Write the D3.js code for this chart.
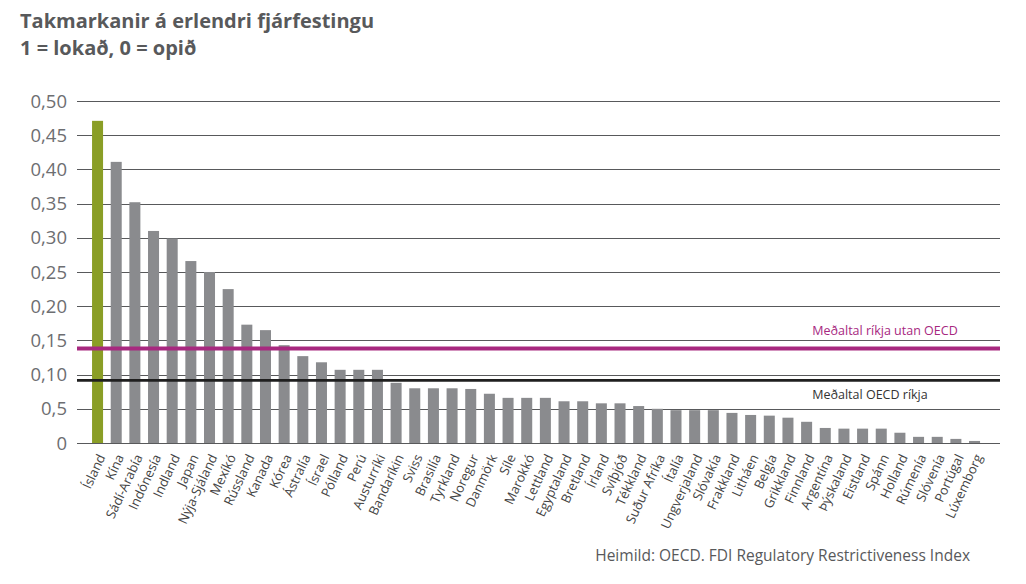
<!DOCTYPE html>
<html>
<head>
<meta charset="utf-8">
<script src="https://cdn.jsdelivr.net/npm/d3@7"></script>
<style>
html,body{margin:0;padding:0;background:#fff;}
svg{display:block;font-family:"Open Sans","Noto Sans",sans-serif;}
</style>
</head>
<body>
<svg id="chart" width="1026" height="584"></svg>
<script>
const countries = ["Ísland","Kína","Sádí-Arabía","Indónesía","Indland","Japan","Nýja-Sjáland","Mexíkó","Rússland","Kanada","Kórea","Ástralía","Ísrael","Pólland","Perú","Austurríki","Bandaríkin","Sviss","Brasilía","Tyrkland","Noregur","Danmörk","Síle","Marokkó","Lettland","Egyptaland","Bretland","Írland","Svíþjóð","Tékkland","Suður Afríka","Ítalía","Ungverjaland","Slóvakía","Frakkland","Litháen","Belgía","Grikkland","Finnland","Argentína","Þýskaland","Eistland","Spánn","Holland","Rúmenía","Slóvenía","Portúgal","Lúxemborg"];
const values = [0.471,0.411,0.352,0.310,0.299,0.266,0.250,0.225,0.173,0.165,0.143,0.127,0.118,0.107,0.107,0.107,0.088,0.080,0.080,0.080,0.079,0.072,0.066,0.066,0.066,0.061,0.061,0.058,0.058,0.054,0.050,0.048,0.048,0.048,0.044,0.041,0.040,0.037,0.031,0.022,0.021,0.021,0.021,0.015,0.009,0.009,0.006,0.003];
const highlight = "Ísland";
const yTicks = [0,0.05,0.10,0.15,0.20,0.25,0.30,0.35,0.40,0.45,0.50];
const yTickLabels = ["0","0,5","0,10","0,15","0,20","0,25","0,30","0,35","0,40","0,45","0,50"];
const avgNonOECD = 0.138;
const avgOECD = 0.0915;
const avgLabels = ["Meðaltal ríkja utan OECD","Meðaltal OECD ríkja"];
const titleLines = ["Takmarkanir á erlendri fjárfestingu","1 = lokað, 0 = opið"];
const source = "Heimild: OECD. FDI Regulatory Restrictiveness Index";

const svg = d3.select("#chart");
const gridX0 = 77, gridX1 = 1000;
const y = d3.scaleLinear().domain([0,0.5]).range([443,101]);
const x = d3.scaleBand().domain(countries).range([84.4,987.7]).paddingInner(0.41).paddingOuter(0.41);

// title
svg.selectAll("text.title").data(titleLines).join("text")
  .attr("class","title")
  .attr("x",20).attr("y",(d,i)=>28+i*27)
  .attr("font-size",20).attr("font-weight","bold").attr("fill","#58595b")
  .text(d=>d);

// gridlines
svg.append("g").selectAll("line").data(yTicks).join("line")
  .attr("x1",gridX0).attr("x2",gridX1)
  .attr("y1",d=>Math.round(y(d))+0.5).attr("y2",d=>Math.round(y(d))+0.5)
  .attr("stroke","#58595b").attr("stroke-width",1.1);

// y labels
svg.append("g").selectAll("text").data(yTicks).join("text")
  .attr("x",67).attr("y",d=>y(d)+6.5)
  .attr("text-anchor","end").attr("font-size",18.5).attr("fill","#6d6e71")
  .text((d,i)=>yTickLabels[i]);

// bars
svg.append("g").selectAll("rect").data(countries).join("rect")
  .attr("x",d=>x(d)).attr("width",x.bandwidth())
  .attr("y",(d,i)=>y(values[i])).attr("height",(d,i)=>y(0)-y(values[i]))
  .attr("fill",d=>d===highlight?"#8a9e26":"#8a8b8e");

// average lines
svg.append("line").attr("x1",gridX0).attr("x2",gridX1)
  .attr("y1",y(avgNonOECD)).attr("y2",y(avgNonOECD))
  .attr("stroke","#a7287f").attr("stroke-width",4);
svg.append("line").attr("x1",gridX0).attr("x2",gridX1)
  .attr("y1",y(avgOECD)).attr("y2",y(avgOECD))
  .attr("stroke","#1f1f1f").attr("stroke-width",2.6);

svg.append("text").attr("x",885).attr("y",y(avgNonOECD)-14)
  .attr("text-anchor","middle").attr("font-size",12.5).attr("fill","#a7287f")
  .text(avgLabels[0]);
svg.append("text").attr("x",870).attr("y",y(avgOECD)+19)
  .attr("text-anchor","middle").attr("font-size",12.5).attr("fill","#333")
  .text(avgLabels[1]);

// x labels
svg.append("g").selectAll("text").data(countries).join("text")
  .attr("transform",d=>`translate(${x(d)+x.bandwidth()/2+4},${455}) rotate(-65)`)
  .attr("text-anchor","end").attr("font-size",13).attr("fill","#444")
  .attr("dy","0.35em")
  .text(d=>d);

// source
svg.append("text").attr("x",970).attr("y",561)
  .attr("text-anchor","end").attr("font-size",15.5).attr("fill","#58595b")
  .text(source);
</script>
</body>
</html>
